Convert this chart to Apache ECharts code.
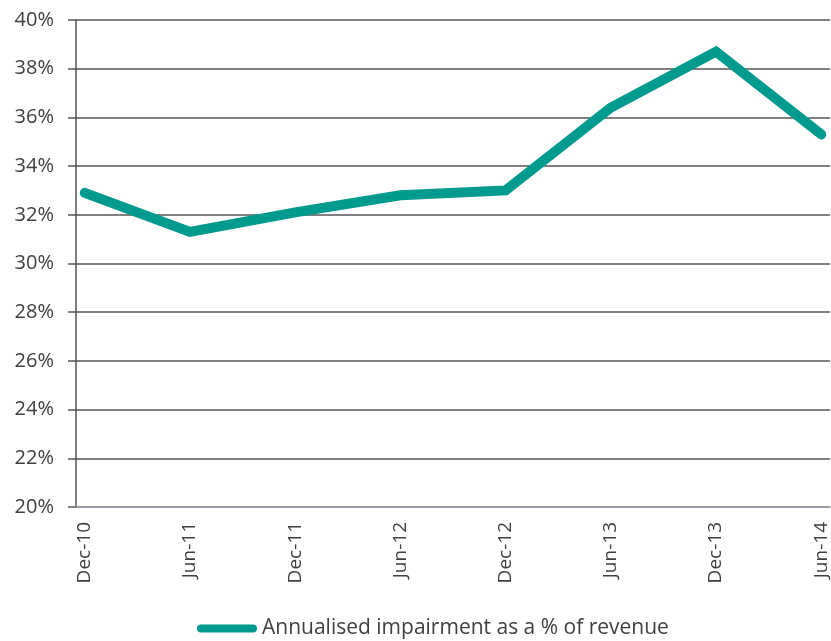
<!DOCTYPE html>
<html>
<head>
<meta charset="utf-8">
<script src="https://cdn.jsdelivr.net/npm/echarts@6/dist/echarts.min.js"></script>
<style>
  html, body { margin: 0; padding: 0; background: #fff; }
  #lineChart { width: 831px; height: 641px; }
</style>
</head>
<body>
<div id="lineChart"></div>
<script>
// half-year reporting dates shown on the x axis
const periods = ['Dec-10', 'Jun-11', 'Dec-11', 'Jun-12', 'Dec-12', 'Jun-13', 'Dec-13', 'Jun-14']
// annualised impairment as % of revenue
const impairmentPct = [32.9, 31.3, 32.1, 32.8, 33.0, 36.4, 38.7, 35.3]
const monthsPerStep = 6

// the source is a monthly date axis: one slot per month, labels every 6th month
let categories = []
let seriesData = []
periods.forEach((p, i) => {
  seriesData.push([categories.length, impairmentPct[i]])
  categories.push(p)
  if (i < periods.length - 1) {
    for (let k = 1; k < monthsPerStep; k++) categories.push(p + '+' + k)
  }
})

let myChart = echarts.init(document.getElementById('lineChart'))
let font = '"Open Sans", sans-serif'
let options = {
  animation: false,
  grid: {
    left: 76,
    right: 1,
    top: 20,
    bottom: 134
  },
  legend: {
    left: 197,
    top: 618,
    padding: 0,
    itemWidth: 60,
    itemHeight: 9,
    icon: 'path://M4,0 H56 A4,4 0 0 1 56,8 H4 A4,4 0 0 1 4,0 Z',
    textStyle: {
      fontFamily: font,
      fontSize: 21,
      color: '#404040'
    },
    data: ['Annualised impairment as a % of revenue']
  },
  xAxis: {
    type: 'category',
    boundaryGap: true,
    data: categories,
    axisLine: {
      lineStyle: { color: '#a3a3b5', width: 1.5 }
    },
    axisTick: {
      interval: monthsPerStep - 1,
      length: 7,
      lineStyle: { color: '#a3a3b5', width: 1.5 }
    },
    axisLabel: {
      interval: monthsPerStep - 1,
      rotate: 90,
      margin: 15,
      fontFamily: font,
      fontSize: 19,
      color: '#404040'
    },
    splitLine: { show: false }
  },
  yAxis: {
    type: 'value',
    min: 20,
    max: 40,
    interval: 2,
    axisLine: {
      show: true,
      lineStyle: { color: '#555', width: 1.5 }
    },
    axisTick: {
      show: true,
      length: 8,
      lineStyle: { color: '#555', width: 1.5 }
    },
    axisLabel: {
      formatter: '{value}%',
      margin: 22,
      fontFamily: font,
      fontSize: 20,
      color: '#404040'
    },
    splitLine: {
      lineStyle: { color: '#555', width: 1.5 }
    }
  },
  series: [
    {
      name: 'Annualised impairment as a % of revenue',
      type: 'line',
      data: seriesData,
      symbol: 'none',
      lineStyle: {
        color: '#009a8e',
        width: 10,
        cap: 'round',
        join: 'miter'
      },
      itemStyle: { color: '#009a8e' }
    }
  ]
}
myChart.setOption(options)
</script>
</body>
</html>
